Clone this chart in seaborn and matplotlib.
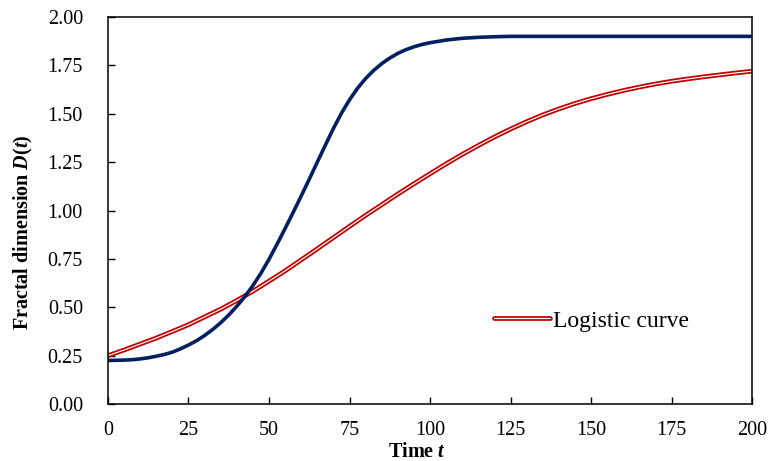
import matplotlib
matplotlib.use("Agg")
import matplotlib.pyplot as plt
import matplotlib.patheffects as pe
import seaborn as sns
import pandas as pd

# values
t_navy = [0, 5, 7.5, 10, 12.5, 15, 17.5, 20, 22.5, 25, 27.5, 30, 32.5, 35, 37.5, 40,
          42.5, 45, 47.5, 50, 52.5, 55, 57.5, 60, 62.5, 65, 67.5, 70, 72.5, 75, 77.5,
          80, 82.5, 85, 87.5, 90, 92.5, 95, 97.5, 100, 105, 110, 115, 120, 125, 150,
          175, 200]
d_navy = [0.225, 0.227, 0.229, 0.233, 0.239, 0.247, 0.256, 0.268, 0.285, 0.305, 0.327,
          0.354, 0.385, 0.42, 0.46, 0.505, 0.555, 0.612, 0.676, 0.748, 0.826, 0.907,
          0.99, 1.075, 1.162, 1.25, 1.338, 1.424, 1.503, 1.572, 1.632, 1.682, 1.724,
          1.759, 1.788, 1.812, 1.831, 1.846, 1.858, 1.867, 1.881, 1.89, 1.895, 1.898,
          1.9, 1.9, 1.9, 1.9]

t_logistic = [0, 5, 10, 15, 20, 25, 30, 35, 40, 45, 50, 55, 60, 65, 70, 75, 80, 85, 90,
              95, 100, 105, 110, 115, 120, 125, 130, 135, 140, 145, 150, 155, 160, 165,
              170, 175, 180, 185, 190, 195, 200]
d_logistic = [0.25, 0.279, 0.31, 0.341, 0.375, 0.41, 0.45, 0.49, 0.535, 0.583, 0.635,
              0.688, 0.745, 0.802, 0.86, 0.918, 0.975, 1.03, 1.085, 1.138, 1.19, 1.241,
              1.29, 1.336, 1.38, 1.421, 1.459, 1.494, 1.525, 1.553, 1.578, 1.60, 1.62,
              1.638, 1.654, 1.668, 1.68, 1.691, 1.701, 1.711, 1.72]

x_ticks = [0, 25, 50, 75, 100, 125, 150, 175, 200]
y_ticks = [0.0, 0.25, 0.5, 0.75, 1.0, 1.25, 1.5, 1.75, 2.0]

sns.set_style("white")
plt.rcParams["font.family"] = ["Liberation Serif", "DejaVu Serif"]
plt.rcParams["text.color"] = "black"
plt.rcParams["axes.labelcolor"] = "black"
plt.rcParams["mathtext.fontset"] = "custom"
plt.rcParams["mathtext.rm"] = "Liberation Serif"
plt.rcParams["mathtext.it"] = "Liberation Serif:italic"
plt.rcParams["mathtext.bf"] = "Liberation Serif:bold"
plt.rcParams["mathtext.bfit"] = "Liberation Serif:italic:bold"

df_navy = pd.DataFrame({"t": t_navy, "D": d_navy})
df_log = pd.DataFrame({"t": t_logistic, "D": d_logistic})

fig = plt.figure(figsize=(7.69, 4.61), dpi=100)
ax = fig.add_axes([0.1404, 0.1236, 0.8376, 0.8395])

# red double line: red stroke with a thin white core
sns.lineplot(data=df_log, x="t", y="D", ax=ax, color="white", linewidth=0.85,
             label="Logistic curve",
             path_effects=[pe.Stroke(linewidth=3.4, foreground="#C00000"), pe.Normal()])
sns.lineplot(data=df_navy, x="t", y="D", ax=ax, color="#002060", linewidth=2.6)

ax.set_xlim(0, 200)
ax.set_ylim(0, 2.0)
ax.set_xticks(x_ticks)
ax.set_yticks(y_ticks)
ax.set_xticklabels([str(v) for v in x_ticks])
ax.set_yticklabels([f"{v:.2f}" for v in y_ticks])
ax.tick_params(direction="in", length=5, width=1.0, labelsize=14.5, colors="black",
               left=True, bottom=True, top=False, right=False)
ax.tick_params(axis="x", pad=12)
ax.tick_params(axis="y", pad=18)

for s in ax.spines.values():
    s.set_color("black")
    s.set_linewidth(1.1)

ax.set_xlabel(r"Time $\mathbfit{t}$", fontsize=14.5, fontweight="bold")
ax.set_ylabel(r"Fractal dimension $\mathbfit{D}$($\mathbfit{t}$)", fontsize=14.5,
              fontweight="bold")
ax.xaxis.set_label_coords(0.48, -0.098)
ax.yaxis.set_label_coords(-0.113, 0.443)

ax.legend(loc="center left", bbox_to_anchor=(0.600, 0.215), frameon=False,
          fontsize=17, handlelength=2.35, handletextpad=0.13, borderpad=0,
          borderaxespad=0)

fig.savefig("out.png", dpi=100)
